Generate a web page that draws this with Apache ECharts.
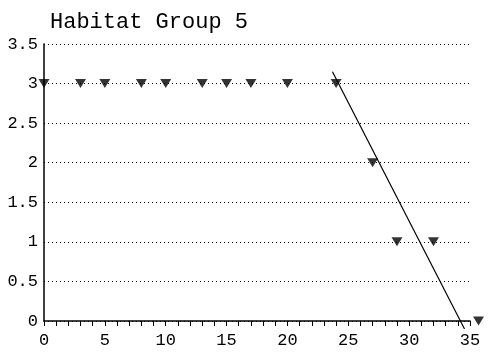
<!DOCTYPE html>
<html>
<head>
<meta charset="utf-8">
<script src="https://cdn.jsdelivr.net/npm/echarts@6/dist/echarts.min.js"></script>
<style>
  html, body { margin: 0; padding: 0; background: #fff; }
  #main { width: 491px; height: 353px; }
</style>
</head>
<body>
<div id="main"></div>
<script>
// observed points (x, y)
var xVals = [0, 3, 5, 8, 10, 13, 15, 17, 20, 24, 27, 29, 32, 35.7];
var yVals = [3, 3, 3, 3, 3, 3, 3, 3, 3, 3, 2, 1, 1, 0];
// fitted line end points
var fitX = [23.7, 34.55];
var fitY = [3.15, -0.1];

var pts = xVals.map(function (x, i) { return [x, yVals[i]]; });
var fit = fitX.map(function (x, i) { return [x, fitY[i]]; });

var font = 'Liberation Mono';
var chart = echarts.init(document.getElementById('main'));
var option = {
    animation: false,
    backgroundColor: '#fff',
    title: {
        text: 'Habitat Group 5',
        left: 45,
        top: 6,
        textStyle: { fontFamily: font, fontSize: 22, fontWeight: 'normal', color: '#000' }
    },
    grid: { left: 44, right: 21, top: 44, bottom: 32 },
    xAxis: {
        type: 'value',
        min: 0,
        max: 35,
        interval: 5,
        axisLine: { lineStyle: { color: '#000', width: 1.5 } },
        axisTick: { show: true, length: 5, lineStyle: { color: '#000' } },
        minorTick: { show: true, splitNumber: 5, length: 5, lineStyle: { color: '#000' } },
        splitLine: { show: false },
        axisLabel: { fontFamily: font, fontSize: 17, color: '#000', margin: 11 }
    },
    yAxis: {
        type: 'value',
        min: 0,
        max: 3.5,
        interval: 0.5,
        axisLine: { show: true, lineStyle: { color: '#000', width: 1.5 } },
        axisTick: { show: false },
        splitLine: { show: true, lineStyle: { color: '#000', type: [1, 3], width: 1 } },
        axisLabel: { fontFamily: font, fontSize: 17, color: '#000', margin: 6 }
    },
    series: [
        {
            type: 'line',
            data: fit,
            symbol: 'none',
            clip: false,
            lineStyle: { color: '#000', width: 1.2 }
        },
        {
            type: 'scatter',
            data: pts,
            symbol: 'triangle',
            symbolRotate: 180,
            symbolSize: [11, 9],
            clip: false,
            itemStyle: { color: '#000' }
        }
    ]
};
chart.setOption(option);
</script>
</body>
</html>
